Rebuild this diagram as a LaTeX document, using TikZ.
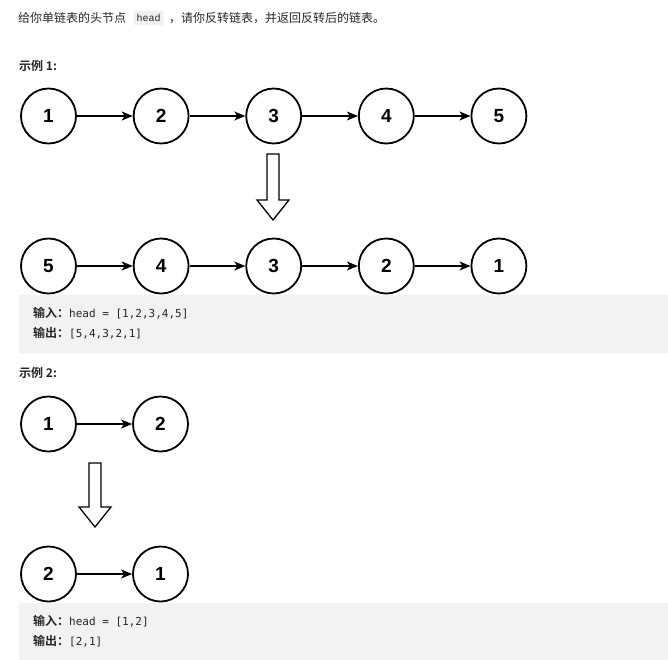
\documentclass[tikz,border=0pt]{standalone}
\usepackage{fontspec}
\setmainfont{Noto Sans CJK SC}[BoldFont={Noto Sans CJK SC Bold}]
\newfontfamily\numfont{Liberation Sans}
\newfontfamily\codefont{DejaVu Sans Mono}
\newfontfamily\kwfont{Liberation Mono}
\usetikzlibrary{arrows.meta,positioning}
\definecolor{txt}{HTML}{262626}
\definecolor{boxgray}{HTML}{F2F2F2}
\definecolor{kwgray}{HTML}{F0F0F0}

\begin{document}
\begin{tikzpicture}[x=1pt,y=-1pt,
  vtx/.style={circle,draw,line width=1.8pt,minimum size=55pt,inner sep=0pt,
    font=\numfont\bfseries\fontsize{19}{19}\selectfont},
  nxt/.style={-{Stealth[length=11pt,width=9pt,inset=3pt]},line width=1.4pt},
  bigarrow/.style={draw,line width=1.3pt,fill=white,line join=miter},
  plain/.style={anchor=west,inner sep=0pt,text=txt,font=\fontsize{12}{12}\selectfont},
  codeline/.style={anchor=west,inner sep=0pt,text=txt,font=\fontsize{12}{12}\selectfont}]
\useasboundingbox (0,0) rectangle (668,659);

% title
\node[plain] (t1) at (18,18) {给你单链表的头节点};
\node[right=7pt of t1,fill=kwgray,rounded corners=2pt,inner xsep=3pt,inner ysep=3.5pt,
  text=txt,font=\kwfont\fontsize{10}{10}\selectfont] (kw) {head};
\node[plain,right=5pt of kw] (t2) {，请你反转链表，并返回反转后的链表。};

% example 1
\node[plain,font=\bfseries\fontsize{12}{12}\selectfont] (ex1) at (19,66) {示例 1:};
\foreach \v [count=\i] in {1,2,3,4,5}
  \node[vtx] (a\i) at ({48.5+112.6*(\i-1)},116) {\v};
\foreach \v [count=\i] in {5,4,3,2,1}
  \node[vtx] (b\i) at ({48.5+112.6*(\i-1)},266) {\v};
\foreach \i/\j in {1/2,2/3,3/4,4/5} {
  \draw[nxt] (a\i) -- (a\j);
  \draw[nxt] (b\i) -- (b\j);
}
\draw[bigarrow] (267,154) -- (279,154) -- (279,200) -- (289,200) -- (273,220)
  -- (257,200) -- (267,200) -- cycle;

\fill[boxgray,rounded corners=2pt] (19,295) rectangle (672,353);
\node[codeline] (in1) at (33,313) {\textbf{输入：}{\codefont\fontsize{11}{11}\selectfont head = [1,2,3,4,5]}};
\node[codeline] (out1) at (33,333) {\textbf{输出：}{\codefont\fontsize{11}{11}\selectfont [5,4,3,2,1]}};

% example 2
\node[plain,font=\bfseries\fontsize{12}{12}\selectfont] (ex2) at (19,373) {示例 2:};
\node[vtx] (c1) at (48.5,424) {1};
\node[vtx] (c2) at (160.5,424) {2};
\draw[nxt] (c1) -- (c2);
\draw[bigarrow] (89,463) -- (101,463) -- (101,507) -- (111,507) -- (95,527)
  -- (79,507) -- (89,507) -- cycle;
\node[vtx] (d1) at (48.5,574) {2};
\node[vtx] (d2) at (160.5,574) {1};
\draw[nxt] (d1) -- (d2);

\fill[boxgray,rounded corners=2pt] (19,603) rectangle (672,663);
\node[codeline] (in2) at (33,621) {\textbf{输入：}{\codefont\fontsize{11}{11}\selectfont head = [1,2]}};
\node[codeline] (out2) at (33,641) {\textbf{输出：}{\codefont\fontsize{11}{11}\selectfont [2,1]}};
\end{tikzpicture}
\end{document}
